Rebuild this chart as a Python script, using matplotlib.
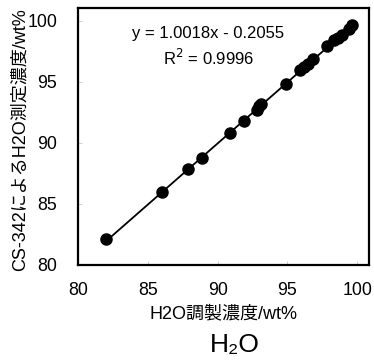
import numpy as np
import matplotlib
matplotlib.use('Agg')
import matplotlib.pyplot as plt

plt.rcParams['font.family'] = ['Liberation Sans', 'Noto Sans CJK JP', 'DejaVu Sans']

# prepared (x) vs measured (y) H2O concentration, wt%
prepared = [82.0, 86.0, 87.9, 88.9, 90.85, 91.9, 92.8, 92.95, 93.1, 94.9,
            95.9, 96.2, 96.5, 96.8, 97.8, 98.3, 98.6, 98.9, 99.4, 99.65]
measured = [82.1, 86.0, 87.9, 88.75, 90.8, 91.8, 92.7, 93.0, 93.2, 94.85,
            96.0, 96.25, 96.5, 96.85, 97.9, 98.4, 98.6, 98.8, 99.3, 99.65]
slope = 1.0018
intercept = -0.2055
r2 = 0.9996

fig = plt.figure(figsize=(3.74, 3.62), dpi=100)
ax = fig.add_axes([0.2086, 0.268, 0.7784, 0.71])

xs = np.array([min(prepared), max(prepared)])
ax.plot(xs, slope * xs + intercept, color='black', lw=1.3, zorder=2)
ax.plot(prepared, measured, 'o', color='black', ms=8, zorder=3)

ax.set_xlim(80, 100.85)
ax.set_ylim(80, 101.05)
ax.set_xticks([80, 85, 90, 95, 100])
ax.set_yticks([80, 85, 90, 95, 100])
ax.tick_params(direction='in', length=3, width=0.5, colors='#bbbbbb',
               labelcolor='black', labelsize=12.8)
ax.tick_params(axis='x', pad=12)
ax.tick_params(axis='y', pad=15)
for s in ax.spines.values():
    s.set_linewidth(1.6)

ax.text(0.447, 0.90, 'y = 1.0018x - 0.2055', transform=ax.transAxes,
        ha='center', va='center', fontsize=12)
ax.text(0.447, 0.805, 'R$^2$ = %.4f' % r2, transform=ax.transAxes,
        ha='center', va='center', fontsize=12)

ax.set_xlabel('H2O調製濃度/wt%', fontsize=13, labelpad=5)
ax.set_ylabel('CS-342によるH2O測定濃度/wt%', fontsize=13)
ax.yaxis.set_label_coords(-0.168, 0.486)

fig.text(0.628, 0.047, 'H₂O', ha='center', va='center', fontsize=19)

fig.savefig('out.png', dpi=100)
